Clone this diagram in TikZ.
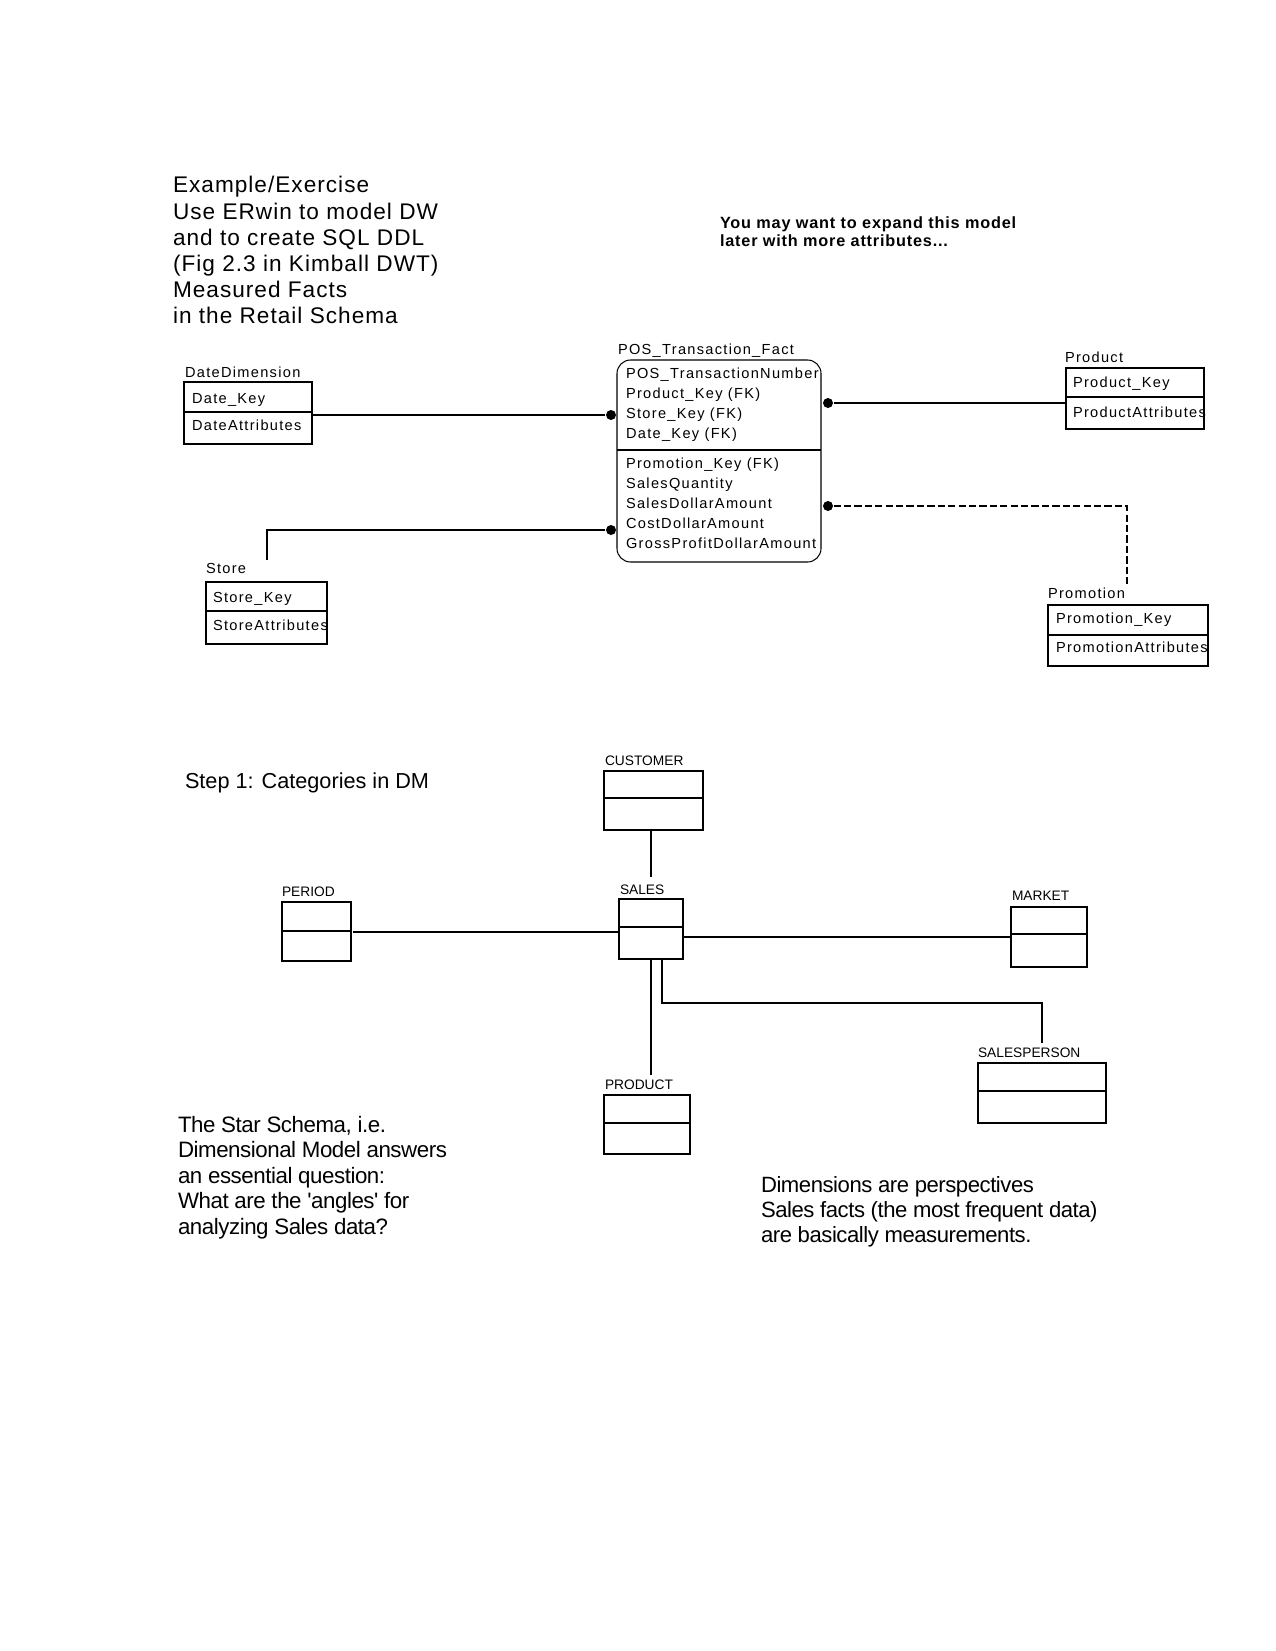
\documentclass[tikz,border=0pt]{standalone}
\usepackage{fontspec}
\setmainfont{Liberation Sans}
\newfontfamily\erf[LetterSpace=9]{Liberation Sans}
\newfontfamily\ttlf[LetterSpace=4.5]{Liberation Sans}
\newfontfamily\notef[LetterSpace=5]{Liberation Sans}
\newfontfamily\tightf[LetterSpace=-2]{Liberation Sans}
\newcommand\mylines[1]{\begin{tabular}[t]{@{}l@{}}#1\end{tabular}}
\usetikzlibrary{fit}
\begin{document}
\begin{tikzpicture}[x=0.48pt,y=-0.48pt,line width=0.5pt,
  txt/.style={anchor=base west,inner sep=0pt,outer sep=0pt},
  er/.style={txt,font=\erf\fontsize{7}{9.6}\selectfont},
  dl/.style={txt,font=\fontsize{6.6}{8}\selectfont},
  tbox/.style={draw,inner sep=0pt,outer sep=0pt},
  dot/.style={circle,fill,inner sep=0pt,minimum size=4.8pt}]
\useasboundingbox (0,0) rectangle (1275,1651);

% heading texts
\node[txt,font=\ttlf\fontsize{10.85}{12.5}\selectfont] (title) at (173,193)
  {\mylines{Example/Exercise\\Use ERwin to model DW\\and to create SQL DDL\\(Fig 2.3 in Kimball DWT)\\Measured Facts\\in the Retail Schema}};
\node[txt,font=\notef\bfseries\fontsize{7.8}{9}\selectfont] (note) at (720,228)
  {\mylines{You may want to expand this model\\later with more attributes...}};

% fact table
\node[er] (factT) at (618,354) {POS\_Transaction\_Fact};
\node[tbox,rounded corners=6.5pt,fit={(617,360) (821,562)}] (fact) {};
\draw (fact.west |- 0,450) -- (fact.east |- 0,450);
\node[er] (factK) at (626,378) {\mylines{POS\_TransactionNumber\\Product\_Key (FK)\\Store\_Key (FK)\\Date\_Key (FK)}};
\node[er] (factA) at (626,468) {\mylines{Promotion\_Key (FK)\\SalesQuantity\\SalesDollarAmount\\CostDollarAmount\\GrossProfitDollarAmount}};

% date
\node[er] (dateT) at (185,377) {DateDimension};
\node[tbox,fit={(184,382) (312,444)}] (date) {};
\draw (date.west |- 0,412) -- (date.east |- 0,412);
\node[er] (dateK) at (192,403) {Date\_Key};
\node[er] (dateA) at (192,430) {DateAttributes};

% product
\node[er] (prodT) at (1065,362) {Product};
\node[tbox,fit={(1066,368) (1204,429)}] (prod) {};
\draw (prod.west |- 0,397) -- (prod.east |- 0,397);
\node[er] (prodK) at (1073,387) {Product\_Key};
\node[er] (prodA) at (1073,417) {ProductAttributes};

% store
\node[er] (storeT) at (206,573) {Store};
\node[tbox,fit={(206,582) (327,644)}] (store) {};
\draw (store.west |- 0,611) -- (store.east |- 0,611);
\node[er] (storeK) at (213,602) {Store\_Key};
\node[er] (storeA) at (213,630) {StoreAttributes};

% promotion
\node[er] (promT) at (1048,598) {Promotion};
\node[tbox,fit={(1048,605) (1208,666)}] (prom) {};
\draw (prom.west |- 0,635) -- (prom.east |- 0,635);
\node[er] (promK) at (1056,623) {Promotion\_Key};
\node[er] (promA) at (1056,652) {PromotionAttributes};

% dots and connectors
\node[dot] (dL1) at (611,415) {};
\node[dot] (dL2) at (611,530) {};
\node[dot] (dR1) at (828,403) {};
\node[dot] (dR2) at (828,506) {};
\coordinate (sEnd) at (267,560);
\coordinate (pEnd) at (1127,585);
\draw (date.east |- dL1) -- (dL1);
\draw (dL2) -| (sEnd);
\draw (dR1) -- (prod.west |- dR1);
\draw[dash pattern=on 3.5pt off 1.5pt] (dR2) -| (pEnd);

% dimensional model
\node[txt,font=\fontsize{10.4}{12}\selectfont] (step) at (185,788) {Step 1: Categories in DM};

\node[dl] (custT) at (605,765) {CUSTOMER};
\node[tbox,fit={(604,771) (703,830)}] (cust) {};
\draw (cust.west |- 0,798) -- (cust.east |- 0,798);

\node[dl] (perT) at (282,896) {PERIOD};
\node[tbox,fit={(282,902) (351,961)}] (period) {};
\draw (period.west |- 0,931) -- (period.east |- 0,931);

\node[dl] (salesT) at (620,894) {SALES};
\node[tbox,fit={(619,899) (683,959)}] (sales) {};
\draw (sales.west |- 0,927) -- (sales.east |- 0,927);

\node[dl] (mktT) at (1012,900) {MARKET};
\node[tbox,fit={(1011,907) (1087,967)}] (market) {};
\draw (market.west |- 0,934) -- (market.east |- 0,934);

\node[dl] (spT) at (978,1057) {SALESPERSON};
\node[tbox,fit={(978,1063) (1106,1123)}] (sp) {};
\draw (sp.west |- 0,1091) -- (sp.east |- 0,1091);

\node[dl] (pdT) at (605,1089) {PRODUCT};
\node[tbox,fit={(604,1095) (690,1154)}] (pd) {};
\draw (pd.west |- 0,1123) -- (pd.east |- 0,1123);

\coordinate (cEnd) at (651,877);
\coordinate (prEnd) at (651,1075);
\coordinate (spx) at (662,1003);
\coordinate (spEnd) at (1042,1043);
\draw (cEnd |- cust.south) -- (cEnd);
\draw ([xshift=1pt]period.east |- 0,932) -- (sales.west |- 0,932);
\draw (sales.east |- 0,937) -- (market.west |- 0,937);
\draw (prEnd |- sales.south) -- (prEnd);
\draw (spx |- sales.south) -- (spx) -| (spEnd);

% bottom notes
\node[txt,font=\tightf\fontsize{10.7}{12.3}\selectfont] (starTxt) at (178,1132)
  {\mylines{The Star Schema, i.e.\\Dimensional Model answers\\an essential question:\\What are the 'angles' for\\analyzing Sales data?}};
\node[txt,font=\tightf\fontsize{10.6}{12}\selectfont] (dimTxt) at (761,1192)
  {\mylines{Dimensions are perspectives\\Sales facts (the most frequent data)\\are basically measurements.}};
\end{tikzpicture}
\end{document}
